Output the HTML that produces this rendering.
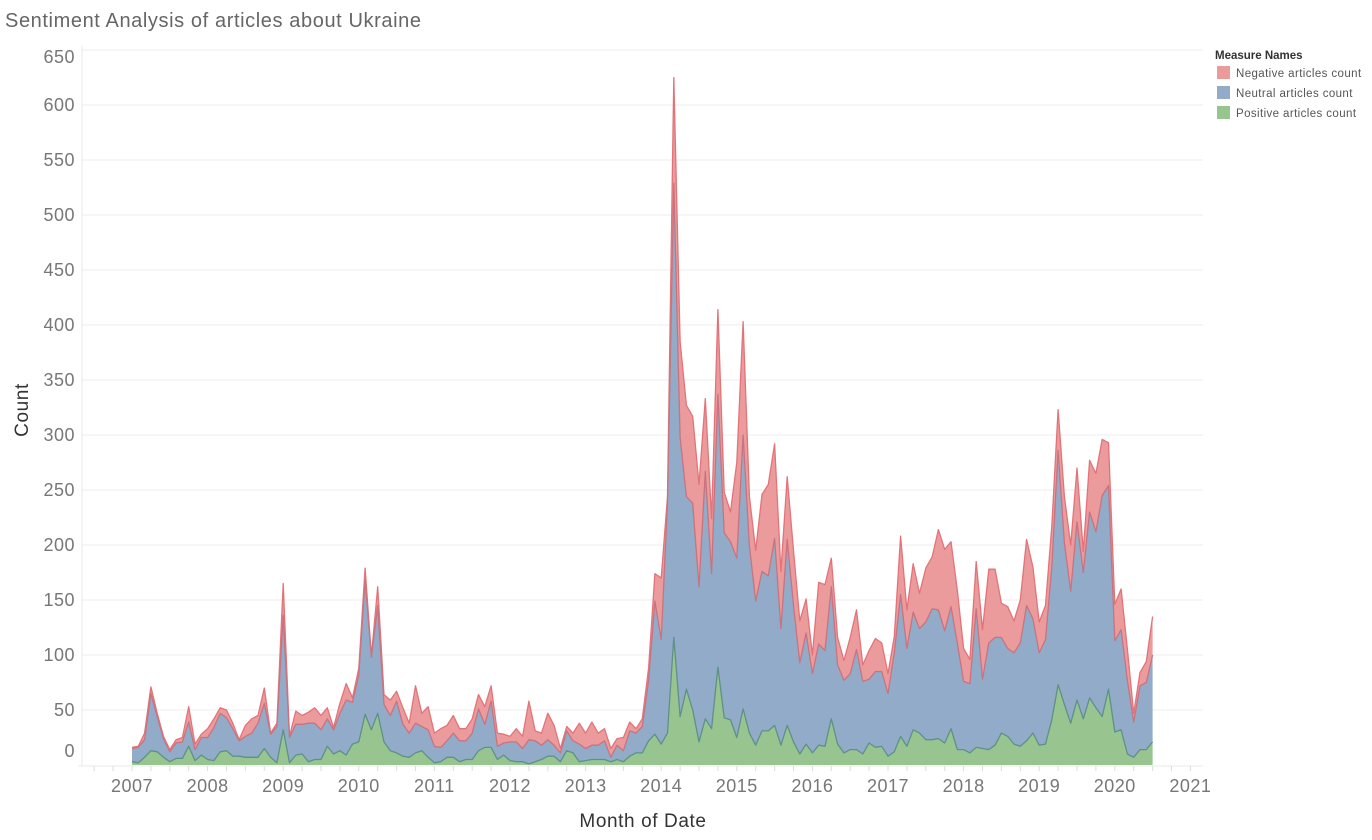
<!DOCTYPE html>
<html><head><meta charset="utf-8">
<style>
body{margin:0;background:#fff;width:1372px;height:840px;overflow:hidden;font-family:"Liberation Sans",sans-serif;}
svg{position:absolute;left:0;top:0}
</style></head>
<body>
<svg id="chart" width="1372" height="840"></svg>
<script>
const years = [2007,2008,2009,2010,2011,2012,2013,2014,2015,2016,2017,2018,2019,2020,2021];
const yTicks = [0,50,100,150,200,250,300,350,400,450,500,550,600,650];
const positive = [3,2,7,13,12,7,3,6,6,17,4,9, 5,4,12,13,8,8,7,7,7,15,7,2, 32,2,9,10,3,5,5,17,10,13,9,19, 21,46,32,47,21,13,11,8,7,11,13,7, 2,3,7,7,3,5,5,13,16,16,5,9, 4,3,3,1,3,5,8,8,3,13,11,3, 4,5,5,5,3,5,3,8,11,11,22,28, 19,29,116,44,69,50,21,42,33,89,43,41, 25,51,29,18,31,31,36,18,36,21,10,19, 11,18,17,42,19,11,14,14,10,20,16,17, 8,12,26,17,32,29,23,23,24,20,33,14, 14,11,16,15,14,18,29,26,19,17,22,29, 18,19,41,73,55,38,59,42,61,52,44,69, 30,32,10,7,14,14,21];
const neutral = [12,14,16,52,32,17,9,14,15,22,10,16, 20,30,35,30,25,14,19,22,31,41,21,33, 104,23,28,27,35,33,27,25,22,34,50,38, 61,122,66,98,34,32,47,29,22,27,22,25, 15,13,15,22,19,17,24,38,21,42,12,11, 17,18,12,22,19,13,15,10,8,18,11,16, 11,13,13,17,4,13,10,23,18,24,55,121, 95,210,413,254,175,188,141,225,141,248,168,162, 163,249,170,131,145,141,170,106,169,124,83,101, 72,92,87,120,72,66,69,91,66,58,69,68, 57,90,129,89,107,95,107,119,117,102,111,97, 62,63,126,63,97,98,87,80,83,94,123,104, 84,95,139,213,147,120,162,133,169,160,201,185, 83,91,67,32,58,61,79];
const negative = [1,1,6,6,3,2,2,3,4,14,5,3, 8,8,5,7,5,1,10,13,7,14,1,3, 29,1,12,8,10,14,13,10,2,9,15,4, 6,11,1,17,9,14,9,15,9,34,12,21, 12,17,14,16,11,11,13,13,16,14,12,8, 5,12,11,35,9,11,24,18,4,4,7,19, 14,21,11,11,8,6,12,8,4,7,11,25, 56,5,96,87,83,79,93,66,50,77,37,27, 87,103,45,46,70,83,86,52,57,50,38,31, 17,56,60,26,25,18,33,36,15,26,30,26, 18,15,53,35,44,32,49,47,73,74,59,48, 30,22,43,45,67,62,31,38,29,39,60,47, 28,31,37,37,42,42,49,19,47,53,51,39, 33,37,28,8,12,19,35];

const NS='http://www.w3.org/2000/svg';
const svg=document.getElementById('chart');
const X0=132, PX_PER_MONTH=6.3, BASE=765, PX_PER_UNIT=1.1;
const xOf=i=>X0+i*PX_PER_MONTH;
const xYear=y=>X0+(y-2007)*12*PX_PER_MONTH;
const yOf=v=>BASE-v*PX_PER_UNIT;
function el(tag,attrs,parent){const e=document.createElementNS(NS,tag);for(const k in attrs)e.setAttribute(k,attrs[k]);(parent||svg).appendChild(e);return e;}

// title
let t=el('text',{x:5,y:27,'font-size':20,fill:'#666','letter-spacing':'0.6'});
t.textContent='Sentiment Analysis of articles about Ukraine';



// gridlines & y labels
const gGrid=el('g',{});


yTicks.forEach(v=>{
  const y=yOf(v);
  if(v>0){const l=el('line',{x1:82,x2:1203,y1:y,y2:y,stroke:'#ececec','stroke-width':1},gGrid);
  
  }
  const ly=Math.min(Math.max(y,57),751);
  const tx=el('text',{x:75,y:ly+6,'text-anchor':'end','font-size':18,fill:'#777','letter-spacing':'0.5'});
  tx.textContent=v;
  
  
});
el('line',{x1:82,x2:82,y1:45,y2:766,stroke:'#e8e8e8'});
el('line',{x1:78,x2:1203,y1:766,y2:766,stroke:'#e8e8e8'});

// quarter ticks
for(let q=-2;q<=4*14+4;q++){
  const x=X0+q*3*PX_PER_MONTH; if(x<86||x>1200)continue;
  el('line',{x1:x,x2:x,y1:766,y2:771,stroke:'#ddd'});
}
years.forEach(y=>{
  const tx=el('text',{x:xYear(y),y:792,'text-anchor':'middle','font-size':18,fill:'#777','letter-spacing':'0.5'});
  tx.textContent=y;
  
  
});

// axis titles
let xt=el('text',{x:643,y:827,'text-anchor':'middle','font-size':19,fill:'#333','letter-spacing':'0.6'});
xt.textContent='Month of Date';


let yt=el('text',{x:0,y:0,'text-anchor':'middle','font-size':19,fill:'#333','letter-spacing':'0.6',transform:'translate(28,410) rotate(-90)'});
yt.textContent='Count';



// stacked areas
const n=positive.length;
const c1=positive.slice(), c2=positive.map((v,i)=>v+neutral[i]), c3=c2.map((v,i)=>v+negative[i]);
function area(top,bottom,fill,stroke,name){
  let d='M'+xOf(0)+','+yOf(top[0]);
  for(let i=1;i<n;i++)d+='L'+xOf(i)+','+yOf(top[i]);
  for(let i=n-1;i>=0;i--)d+='L'+xOf(i)+','+yOf(bottom?bottom[i]:0);
  const p=el('path',{d:d+'Z',fill:fill});
  
  
  let ld='M'+xOf(0)+','+yOf(top[0]);
  for(let i=1;i<n;i++)ld+='L'+xOf(i)+','+yOf(top[i]);
  el('path',{d:ld,fill:'none',stroke:stroke,'stroke-width':1.3,'stroke-linejoin':'round'});
}
area(c3,c2,'#ec9b9c','#e27379','negative-area');
area(c2,c1,'#91abc8','#c77480','neutral-area');
area(c1,null,'#98c58f','#5e9187','positive-area');

// legend
const lg=el('g',{});


let lt=el('text',{x:1215,y:59,'font-size':11.5,fill:'#333','font-weight':'bold'},lg);
lt.textContent='Measure Names';


[['Negative articles count','#ec9b9c'],['Neutral articles count','#91abc8'],['Positive articles count','#98c58f']].forEach((e,i)=>{
  const y=66+i*20;
  const r=el('rect',{x:1217,y:y,width:13,height:13,fill:e[1]},lg);
  
  
  const tx=el('text',{x:1236,y:y+11,'font-size':11.5,fill:'#555','letter-spacing':'0.4'},lg);
  tx.textContent=e[0];
  
  
});
</script>
</body></html>
